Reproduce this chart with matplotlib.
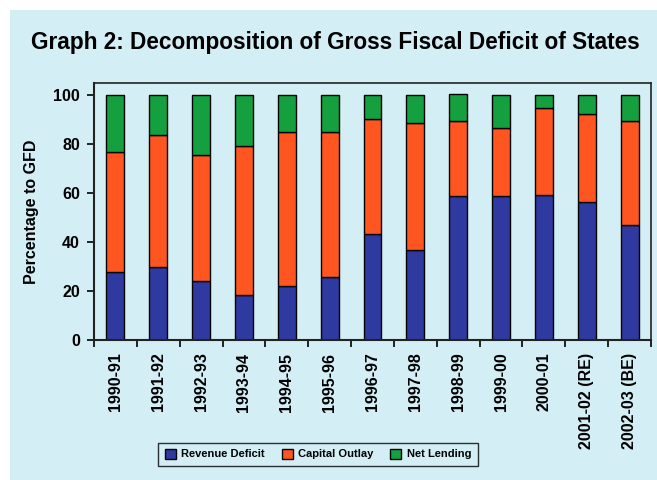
import matplotlib
matplotlib.use("Agg")
import matplotlib.pyplot as plt
from matplotlib.patches import Rectangle
import numpy as np

categories = ["1990-91", "1991-92", "1992-93", "1993-94", "1994-95", "1995-96",
              "1996-97", "1997-98", "1998-99", "1999-00", "2000-01",
              "2001-02 (RE)", "2002-03 (BE)"]
revenue_deficit = [27.9, 29.9, 24.3, 18.3, 21.9, 25.6, 43.3, 36.6, 58.8, 58.8, 59.3, 56.4, 47.0]
capital_outlay = [49.1, 53.7, 51.1, 60.9, 63.2, 59.5, 46.9, 52.1, 30.7, 27.7, 35.4, 36.1, 42.5]
net_lending = [23.0, 16.4, 24.6, 20.8, 14.9, 14.9, 9.8, 11.3, 11.2, 13.5, 5.3, 7.5, 10.5]
series_names = ["Revenue Deficit", "Capital Outlay", "Net Lending"]
yticks = [0, 20, 40, 60, 80, 100]

plt.rcParams['font.family'] = ['Liberation Sans', 'DejaVu Sans']

bg = "#d3eef5"
colors = ["#2f3aa0", "#ff5520", "#15a040"]

fig = plt.figure(figsize=(6.57, 4.80), dpi=100, facecolor="white")
fig.patches.append(Rectangle((10/657, 0), 1, 1 - 10/480, transform=fig.transFigure,
                             facecolor=bg, edgecolor="none", zorder=-10))

ax = fig.add_axes([94/657, 1 - 340/480, (651-94)/657, (340-83)/480])
ax.set_facecolor(bg)

x = np.arange(len(categories))
w = 0.42
rd = np.array(revenue_deficit)
co = np.array(capital_outlay)
nl = np.array(net_lending)
ax.bar(x, rd, w, color=colors[0], edgecolor="black", linewidth=1.0, label=series_names[0])
ax.bar(x, co, w, bottom=rd, color=colors[1], edgecolor="black", linewidth=1.0, label=series_names[1])
ax.bar(x, nl, w, bottom=rd + co, color=colors[2], edgecolor="black", linewidth=1.0, label=series_names[2])

ax.set_xlim(-0.5, len(categories) - 0.5)
ax.set_ylim(0, 105)
ax.set_yticks(yticks)
ax.set_yticklabels([str(v) for v in yticks], fontsize=11.5, fontweight="bold")
ax.set_xticks(x)
ax.set_xticklabels(categories, rotation=90, fontsize=11.5, fontweight="bold", va="top")
ax.tick_params(axis="x", length=0, pad=9)
ax.set_xticks(np.arange(-0.5, len(categories) - 0.4, 1), minor=True)
ax.tick_params(axis="x", which="minor", length=5, width=1.2, direction="out")
ax.tick_params(axis="y", length=5, width=1.2, direction="out", pad=5)
for s in ax.spines.values():
    s.set_linewidth(1.2)
    s.set_color("#222222")
ax.spines["bottom"].set_linewidth(1.5)
ax.spines["left"].set_linewidth(1.5)

ax.set_ylabel("Percentage to GFD", fontsize=11.5, fontweight="bold", labelpad=10)

fig.text(335/657, 1 - 42/480, "Graph 2: Decomposition of Gross Fiscal Deficit of States",
         ha="center", va="center", fontsize=16.3, fontweight="bold")

leg = fig.legend(loc="center", bbox_to_anchor=(318/657, 1 - 454/480), ncol=3,
                 fontsize=8, frameon=True, fancybox=False, edgecolor="black",
                 handlelength=1.0, handleheight=1.0, columnspacing=1.5, handletextpad=0.5,
                 borderpad=0.55)
leg.get_frame().set_facecolor(bg)
leg.get_frame().set_linewidth(1.0)
for t in leg.get_texts():
    t.set_fontweight("bold")

fig.savefig("out.png", dpi=100, facecolor="white")
